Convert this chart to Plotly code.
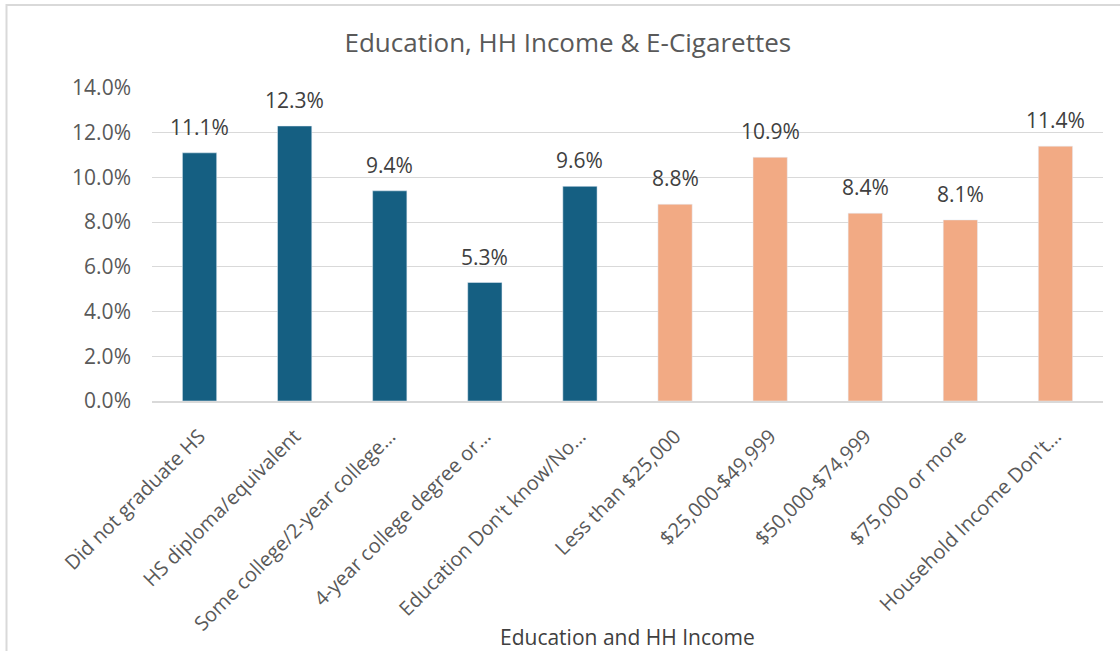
import plotly.graph_objects as go

categories = ['Did not graduate HS', 'HS diploma/equivalent', 'Some college/2-year college…',
              '4-year college degree or…', "Education Don't know/No…", 'Less than $25,000',
              '$25,000-$49,999', '$50,000-$74,999', '$75,000 or more', "Household Income Don't…"]
values = [0.111, 0.123, 0.094, 0.053, 0.096, 0.088, 0.109, 0.084, 0.081, 0.114]
groups = ['edu'] * 5 + ['inc'] * 5

group_colors = {'edu': '#155f82', 'inc': '#f2aa84'}
font_family = 'Open Sans, Lato, sans-serif'
text_color = '#595959'
label_color = '#404040'

fig = go.Figure()
fig.add_trace(go.Bar(
    x=categories, y=values,
    marker_color=[group_colors[g] for g in groups],
    width=0.36,
    hovertemplate='%{x}: %{y:.1%}<extra></extra>',
))

# data labels sit a little above each bar
for cat, val in zip(categories, values):
    fig.add_annotation(x=cat, y=val, text=f'{val:.1%}', showarrow=False,
                       yanchor='bottom', yshift=10,
                       font=dict(size=21, color=label_color, family=font_family))

fig.add_annotation(text='Education and HH Income', xref='paper', yref='paper',
                   x=0.5, y=-0.754, xanchor='center', yanchor='middle', showarrow=False,
                   font=dict(size=21, color=label_color, family=font_family))

fig.update_layout(
    width=1120, height=651,
    margin=dict(l=152, r=17, t=88, b=250),
    plot_bgcolor='white', paper_bgcolor='white',
    font=dict(family=font_family, color=text_color),
    title=dict(text='Education, HH Income & E-Cigarettes', xref='container', x=0.507,
               xanchor='center', yref='container', y=0.934, yanchor='middle',
               font=dict(size=26, color=text_color)),
    showlegend=False,
    shapes=[dict(type='rect', xref='paper', yref='paper', x0=-0.153, x1=1.2, y0=-1.0, y1=1.265,
                 line=dict(color='#d9d9d9', width=2), layer='below')],
)
fig.update_yaxes(range=[0, 0.14], dtick=0.02, tickformat='.1%', gridcolor='#d9d9d9',
                 gridwidth=1, zeroline=False, showline=False, ticks='', automargin=False,
                 tickfont=dict(size=21, color=text_color), ticklabelstandoff=20)
fig.update_xaxes(tickangle=-45, showline=True, linecolor='#d9d9d9', linewidth=1.5,
                 automargin=False, ticklabelstandoff=14,
                 tickfont=dict(size=20, color=text_color))

fig.write_html('out.html', config={'displayModeBar': False},
               post_script="document.body.style.margin='0';")
